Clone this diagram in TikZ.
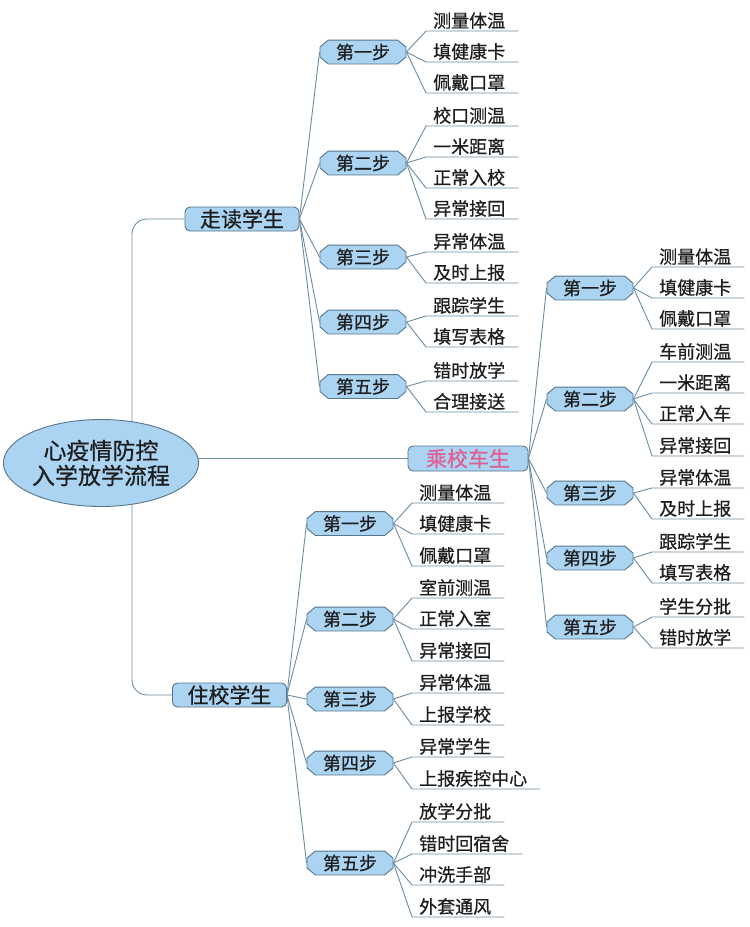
\documentclass[tikz,border=0pt]{standalone}
\usepackage{fontspec}
\setmainfont{Noto Sans CJK SC}[FakeBold=0.6]
\usetikzlibrary{shapes.geometric,shapes.misc,backgrounds}
\definecolor{nodefill}{RGB}{170,212,242}
\definecolor{nodeline}{RGB}{88,118,140}
\definecolor{connline}{RGB}{108,140,160}
\definecolor{txt}{RGB}{30,30,30}
\definecolor{pinktxt}{RGB}{222,96,150}
\tikzset{
  rootnode/.style={ellipse,draw=nodeline,fill=nodefill,line width=0.9pt,minimum width=192pt,minimum height=87pt,inner sep=0pt,align=center,text=txt,font=\fontsize{23pt}{25pt}\selectfont},
  mainnode/.style={rectangle,rounded corners=5pt,draw=nodeline,fill=nodefill,line width=0.9pt,minimum width=114pt,minimum height=24pt,inner sep=0pt,text=txt,font=\fontsize{21pt}{22pt}\selectfont},
  stepnode/.style={chamfered rectangle,chamfered rectangle xsep=4pt,chamfered rectangle angle=50,draw=nodeline,fill=nodefill,line width=0.9pt,minimum width=86pt,minimum height=20pt,inner sep=0pt,text=txt,font=\fontsize{18pt}{19pt}\selectfont},
  leafnode/.style={anchor=south west,inner xsep=7pt,inner ysep=2pt,text=txt,font=\fontsize{18pt}{19pt}\selectfont},
  conn/.style={draw=connline,line width=0.9pt},
}
\newcommand{\leafset}[4]{%
  \foreach \y/\t [count=\i] in {#4}{
    \node[leafnode] (#1l\i) at (#3,\y) {\t};
    \draw[conn] (#2.east) -- (#1l\i.south west) -- ([xshift=6pt]#1l\i.south east);
  }}
\begin{document}
\begin{tikzpicture}[x=1pt,y=-1pt]
\useasboundingbox (0,0) rectangle (750,927);
% root and level 1
\node[rootnode] (root) at (101,463) {心疫情防控\\入学放学流程};
\coordinate (rj) at (132,463);
\node[mainnode] (zd) at (242,219) {走读学生};
\node[mainnode,minimum width=120pt,minimum height=25pt,text=pinktxt] (cx) at (468,458.5) {乘校车生};
\node[mainnode] (zx) at (229.5,695) {住校学生};
% steps
\node[stepnode] (zd1) at (363,52) {第一步};
\node[stepnode] (zd2) at (363,163) {第二步};
\node[stepnode] (zd3) at (363,257) {第三步};
\node[stepnode] (zd4) at (363,322) {第四步};
\node[stepnode] (zd5) at (363,386.5) {第五步};
\node[stepnode] (cx1) at (590,288) {第一步};
\node[stepnode] (cx2) at (590,399) {第二步};
\node[stepnode] (cx3) at (590,493) {第三步};
\node[stepnode] (cx4) at (590,558) {第四步};
\node[stepnode] (cx5) at (590,627) {第五步};
\node[stepnode] (zx1) at (350,523.5) {第一步};
\node[stepnode] (zx2) at (350,619) {第二步};
\node[stepnode] (zx3) at (350,699) {第三步};
\node[stepnode] (zx4) at (350,763) {第四步};
\node[stepnode] (zx5) at (350,863) {第五步};
\begin{pgfonlayer}{background}
\fill[white] (0,0) rectangle (750,927);
\draw[conn,rounded corners=15pt] (rj) |- (zd.west);
\draw[conn,rounded corners=15pt] (rj) |- (zx.west);
\draw[conn] (root.center |- cx.west) -- (cx.west);
\foreach \s in {1,...,5}{
  \draw[conn] (zd.east) -- (zd\s.west);
  \draw[conn] (cx.east) -- (cx\s.west);
  \draw[conn] (zx.east) -- (zx\s.west);
}
\end{pgfonlayer}
% leaves
\leafset{zdA}{zd1}{426}{31/测量体温,62/填健康卡,93/佩戴口罩}
\leafset{zdB}{zd2}{426}{126/校口测温,157/一米距离,188/正常入校,219/异常接回}
\leafset{zdC}{zd3}{426}{252/异常体温,283/及时上报}
\leafset{zdD}{zd4}{426}{316/跟踪学生,347/填写表格}
\leafset{zdE}{zd5}{426}{381/错时放学,412/合理接送}
\leafset{cxA}{cx1}{652}{267/测量体温,298/填健康卡,329/佩戴口罩}
\leafset{cxB}{cx2}{652}{362/车前测温,393/一米距离,424/正常入车,456/异常接回}
\leafset{cxC}{cx3}{652}{488/异常体温,519/及时上报}
\leafset{cxD}{cx4}{652}{552/跟踪学生,583/填写表格}
\leafset{cxE}{cx5}{652}{617/学生分批,648/错时放学}
\leafset{zxA}{zx1}{412}{503/测量体温,534/填健康卡,566/佩戴口罩}
\leafset{zxB}{zx2}{412}{598/室前测温,629/正常入室,661/异常接回}
\leafset{zxC}{zx3}{412}{693/异常体温,725/上报学校}
\leafset{zxD}{zx4}{412}{757/异常学生,789/上报疾控中心}
\leafset{zxE}{zx5}{412}{822/放学分批,854/错时回宿舍,885/冲洗手部,917/外套通风}
\end{tikzpicture}
\end{document}
